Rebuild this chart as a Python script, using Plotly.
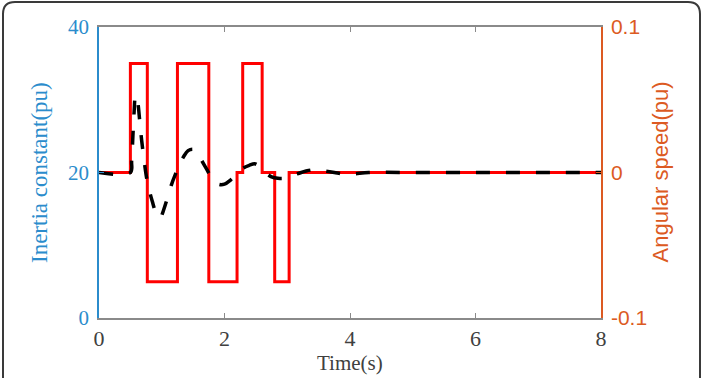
import plotly.graph_objects as go

# ---- data ----
# Inertia constant (left axis, step signal)
inertia_t = [0, 0.5, 0.77, 1.25, 1.75, 2.2, 2.29, 2.6, 2.8, 3.03, 8]
inertia_v = [20, 35, 5, 35, 5, 20, 35, 20, 5, 20, 20]

# Angular speed deviation (right axis)
speed_t = [0, 0.5, 0.52, 0.54, 0.56, 0.58, 0.60, 0.62, 0.65, 0.68, 0.72, 0.76, 0.80,
           0.85, 0.90, 0.95, 0.98, 1.02, 1.08, 1.15, 1.22, 1.28, 1.35, 1.42, 1.50,
           1.57, 1.64, 1.72, 1.80, 1.90, 2.00, 2.10, 2.20, 2.30, 2.40, 2.48, 2.56,
           2.65, 2.75, 2.85, 2.95, 3.05, 3.15, 3.30, 3.45, 3.60, 3.75, 3.90, 4.05,
           4.30, 5.0, 6.0, 7.0, 8.0]
speed_v = [0, 0, 0.008, 0.025, 0.042, 0.052, 0.053, 0.048, 0.035, 0.022, 0.008, -0.004,
           -0.012, -0.020, -0.027, -0.031, -0.031, -0.027, -0.019, -0.009, -0.001, 0.005,
           0.011, 0.015, 0.016, 0.014, 0.008, 0.002, -0.004, -0.008, -0.008, -0.005,
           -0.001, 0.003, 0.005, 0.006, 0.004, 0.000, -0.003, -0.004, -0.004, -0.002,
           -0.001, 0.001, 0.002, 0.001, 0.000, -0.001, -0.001, 0.000, 0.0, 0.0, 0.0, 0.0]

x_ticks = [0, 2, 4, 6, 8]
left_ticks = [0, 20, 40]
right_ticks = [-0.1, 0, 0.1]
right_ticktext = ["-0.1", "0", "0.1"]

BLUE = "#2b8ccc"
ORANGE = "#dc5a22"
GREY = "#8a8a8a"
SERIF = "Times New Roman, Liberation Serif, DejaVu Serif, serif"
SANS = "Arial, Liberation Sans, sans-serif"

W, H = 704, 378
L, R, T, B = 99, 601, 27, 318

fig = go.Figure()
fig.add_trace(go.Scatter(x=inertia_t, y=inertia_v, mode="lines", line_shape="hv",
                         line=dict(color="#ff0000", width=3), yaxis="y", showlegend=False))
fig.add_trace(go.Scatter(x=speed_t, y=speed_v, mode="lines", line_shape="spline",
                         line=dict(color="#000000", width=3.5, dash="14px,16px"),
                         yaxis="y2", showlegend=False))


def px_x(p):
    return (p - L) / (R - L)


def px_y(p):
    return (B - p) / (B - T)


r = 12
x0, x1, yt, yb = 3, 700, 2, 400
path = (f"M {px_x(x0)},{px_y(yb)} L {px_x(x0)},{px_y(yt + r)} "
        f"Q {px_x(x0)},{px_y(yt)} {px_x(x0 + r)},{px_y(yt)} "
        f"L {px_x(x1 - r)},{px_y(yt)} Q {px_x(x1)},{px_y(yt)} {px_x(x1)},{px_y(yt + r)} "
        f"L {px_x(x1)},{px_y(yb)}")

fig.update_layout(
    width=W, height=H,
    margin=dict(l=L, r=W - R, t=T, b=H - B),
    paper_bgcolor="white", plot_bgcolor="white",
    xaxis=dict(range=[0, 8], tickvals=x_ticks, ticks="inside", ticklen=5,
               tickcolor=GREY, showline=True, linecolor=GREY, linewidth=1.5,
               mirror="ticks", showgrid=False, zeroline=False,
               tickfont=dict(family=SERIF, size=22, color="#404040")),
    yaxis=dict(range=[0, 40], tickvals=left_ticks, ticks="inside", ticklen=5,
               tickcolor=BLUE, showline=True, linecolor=BLUE, linewidth=1.5,
               showgrid=False, zeroline=False, ticklabelstandoff=4,
               tickfont=dict(family=SERIF, size=21, color=BLUE)),
    yaxis2=dict(range=[-0.1, 0.1], tickvals=right_ticks, ticktext=right_ticktext,
                overlaying="y", side="right", ticks="inside", ticklen=5,
                tickcolor=ORANGE, showline=True, linecolor=ORANGE, linewidth=1.5,
                showgrid=False, zeroline=False, ticklabelstandoff=4,
                tickfont=dict(family=SANS, size=21, color=ORANGE)),
    annotations=[
        dict(text="Inertia constant(pu)", xref="paper", yref="paper", x=0, y=0.5,
             xshift=-(L - 39.5), textangle=-90, showarrow=False,
             xanchor="center", yanchor="middle",
             font=dict(family=SERIF, size=23, color=BLUE)),
        dict(text="Angular speed(pu)", xref="paper", yref="paper", x=1, y=0.5,
             xshift=660 - R, textangle=-90, showarrow=False,
             xanchor="center", yanchor="middle",
             font=dict(family=SANS, size=22, color=ORANGE)),
        dict(text="Time(s)", xref="paper", yref="paper", x=0.5, y=0,
             yshift=-(363 - B), showarrow=False, xanchor="center", yanchor="middle",
             font=dict(family=SERIF, size=21, color="#404040")),
    ],
    shapes=[dict(type="path", path=path, xref="paper", yref="paper",
                 line=dict(color="#3a3a3a", width=2), layer="above")],
)

fig.write_html("out.html")
